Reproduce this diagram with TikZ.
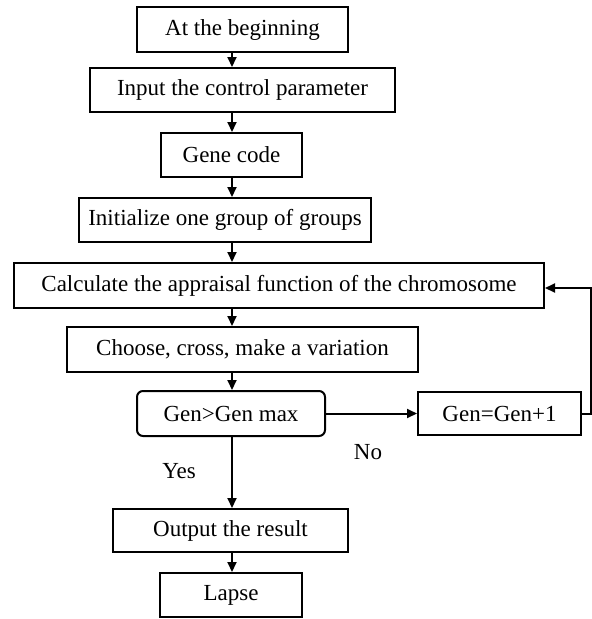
\documentclass[tikz,border=0pt]{standalone}
\usepackage{fontspec}
\setmainfont{Liberation Serif}
\usetikzlibrary{arrows.meta}
\begin{document}
\begin{tikzpicture}[x=1pt,y=-1pt,
  box/.style={draw,line width=2pt,rectangle,inner sep=0pt,align=center,
    font=\fontsize{23}{27}\selectfont},
  rbox/.style={box,rounded corners=6pt},
  lbl/.style={inner sep=0pt,font=\fontsize{23}{27}\selectfont},
  arr/.style={line width=2pt,-{Triangle[length=10pt,width=9pt]}},
  ln/.style={line width=2pt}]
\useasboundingbox (0,0) rectangle (592,619);
\coordinate (spine) at (232,0);
\node[box,minimum width=211pt,minimum height=45pt] (b1) at (242.5,29.5) {At the beginning};
\node[box,minimum width=305pt,minimum height=44pt] (b2) at (242.5,90) {Input the control parameter};
\node[box,minimum width=141pt,minimum height=44pt] (b3) at (231.5,155) {Gene code};
\node[box,minimum width=292pt,minimum height=44pt] (b4) at (225,220) {Initialize one group of groups};
\node[box,minimum width=530pt,minimum height=45pt] (b5) at (279,285.5) {Calculate the appraisal function of the chromosome};
\node[box,minimum width=351pt,minimum height=45pt] (b6) at (242.5,349.5) {Choose, cross, make a variation};
\node[rbox,minimum width=188pt,minimum height=45pt] (b7) at (231,413.5) {Gen>Gen max};
\node[box,minimum width=163pt,minimum height=43pt] (b8) at (499.5,413.5) {Gen=Gen+1};
\node[box,minimum width=235pt,minimum height=43pt] (b9) at (230.5,530.5) {Output the result};
\node[box,minimum width=142pt,minimum height=44pt] (b10) at (231,595) {Lapse};
\node[lbl] (yes) at (179,471) {Yes};
\node[lbl] (no) at (368,452) {No};
\coordinate (fb) at (590.5,0);
\draw[arr] (b1.south -| spine) -- (b2.north -| spine);
\draw[arr] (b2.south -| spine) -- (b3.north -| spine);
\draw[arr] (b3.south -| spine) -- (b4.north -| spine);
\draw[arr] (b4.south -| spine) -- (b5.north -| spine);
\draw[arr] (b5.south -| spine) -- (b6.north -| spine);
\draw[arr] (b6.south -| spine) -- (b7.north -| spine);
\draw[arr] (b7.south -| spine) -- (b9.north -| spine);
\draw[arr] (b9.south -| spine) -- (b10.north -| spine);
\draw[arr] (b7.east) -- (b8.west);
\draw[arr] (b8.east) -- (b8.east -| fb) -- (fb |- 0,288) -- (b5.east |- 0,288);
\end{tikzpicture}
\end{document}
